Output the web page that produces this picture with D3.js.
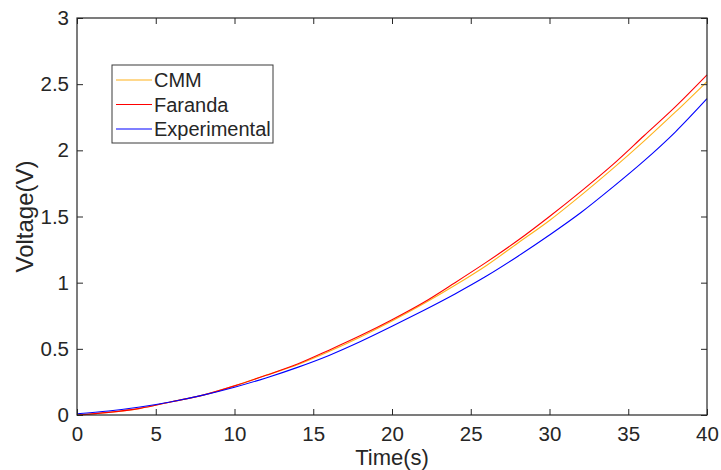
<!DOCTYPE html>
<html>

<head>
    <meta charset="utf-8" />
    <title>Voltage vs Time</title>
    <script type="text/javascript" src="https://cdn.jsdelivr.net/npm/d3@7"></script>
    <style>
        body { margin: 0; background: #fff; }
        text { font-family: Arial, "Liberation Sans", sans-serif; fill: #262626; }
    </style>
</head>

<body>
    <script type="text/javascript">
        const time = [0, 2, 4, 6, 8, 10, 12, 14, 16, 18, 20, 22, 24, 26, 28, 30, 32, 34, 36, 38, 40];
        const cmm = [0, 0.02, 0.05, 0.10, 0.15, 0.22, 0.30, 0.38, 0.48, 0.59, 0.71, 0.84, 0.98, 1.13, 1.30, 1.47, 1.66, 1.86, 2.07, 2.29, 2.52];
        const faranda = [0, 0.02, 0.05, 0.10, 0.15, 0.22, 0.30, 0.385, 0.49, 0.60, 0.72, 0.85, 1.00, 1.155, 1.32, 1.50, 1.69, 1.89, 2.11, 2.33, 2.57];
        const experimental = [0.01, 0.03, 0.06, 0.10, 0.15, 0.21, 0.28, 0.36, 0.45, 0.555, 0.67, 0.79, 0.915, 1.05, 1.20, 1.36, 1.53, 1.72, 1.92, 2.14, 2.39];
        const xTicks = [0, 5, 10, 15, 20, 25, 30, 35, 40];
        const yTicks = [0, 0.5, 1, 1.5, 2, 2.5, 3];

        const series = [
            { name: "CMM", values: cmm, color: "#ffb21a" },
            { name: "Faranda", values: faranda, color: "#ff0000" },
            { name: "Experimental", values: experimental, color: "#0000ff" }
        ];

        const width = 721, height = 470;
        const margin = { top: 18, left: 77, right: 14, bottom: 55 };
        const innerW = width - margin.left - margin.right;
        const innerH = height - margin.top - margin.bottom;

        const svg = d3.select("body").append("svg")
            .attr("width", width)
            .attr("height", height);

        const x = d3.scaleLinear().domain([0, 40]).range([0, innerW]);
        const y = d3.scaleLinear().domain([0, 3]).range([innerH, 0]);

        const g = svg.append("g")
            .attr("transform", `translate(${margin.left},${margin.top})`);

        // curves
        const line = d3.line()
            .curve(d3.curveMonotoneX)
            .x((d, i) => x(time[i]))
            .y(d => y(d));

        g.selectAll("path.curve")
            .data(series)
            .enter()
            .append("path")
            .attr("class", "curve")
            .attr("fill", "none")
            .attr("stroke", d => d.color)
            .attr("stroke-width", 1.1)
            .attr("d", d => line(d.values));

        // axes, ticks inward on all four sides
        const tickLen = 6;
        const fmt = d3.format("~g");
        const styleAxis = sel => {
            sel.select(".domain").remove();
            sel.selectAll(".tick line").attr("stroke", "#262626");
            sel.selectAll(".tick text").attr("font-size", 20.5).attr("fill", "#262626");
        };

        g.append("g")
            .attr("transform", `translate(0,${innerH})`)
            .call(d3.axisBottom(x).tickValues(xTicks).tickSize(-tickLen).tickPadding(11).tickFormat(fmt))
            .call(styleAxis);
        g.append("g")
            .call(d3.axisTop(x).tickValues(xTicks).tickSize(-tickLen).tickFormat(""))
            .call(styleAxis);
        g.append("g")
            .call(d3.axisLeft(y).tickValues(yTicks).tickSize(-tickLen).tickPadding(8).tickFormat(fmt))
            .call(styleAxis);
        g.append("g")
            .attr("transform", `translate(${innerW},0)`)
            .call(d3.axisRight(y).tickValues(yTicks).tickSize(-tickLen).tickFormat(""))
            .call(styleAxis);

        g.append("rect")
            .attr("x", 0).attr("y", 0)
            .attr("width", innerW).attr("height", innerH)
            .attr("fill", "none")
            .attr("stroke", "#262626")
            .attr("stroke-width", 1.2);

        // labels
        svg.append("text")
            .attr("x", margin.left + innerW / 2)
            .attr("y", 465)
            .attr("text-anchor", "middle")
            .attr("font-size", 22)
            .text("Time(s)");

        svg.append("text")
            .attr("transform", `translate(33,${margin.top + innerH / 2}) rotate(-90)`)
            .attr("text-anchor", "middle")
            .attr("font-size", 24)
            .text("Voltage(V)");

        // legend
        const legend = svg.append("g").attr("transform", "translate(112,65)");
        legend.append("rect")
            .attr("width", 161).attr("height", 78)
            .attr("fill", "#fff")
            .attr("stroke", "#3a3a3a")
            .attr("stroke-width", 1);

        const rows = legend.selectAll("g.row")
            .data(series)
            .enter()
            .append("g")
            .attr("class", "row")
            .attr("transform", (d, i) => `translate(0,${15 + i * 24.5})`);
        rows.append("line")
            .attr("x1", 4).attr("x2", 40)
            .attr("stroke", d => d.color)
            .attr("stroke-width", 1.1);
        rows.append("text")
            .attr("x", 42)
            .attr("y", 7)
            .attr("font-size", 20)
            .attr("fill", "#000")
            .text(d => d.name);
    </script>
</body>

</html>
